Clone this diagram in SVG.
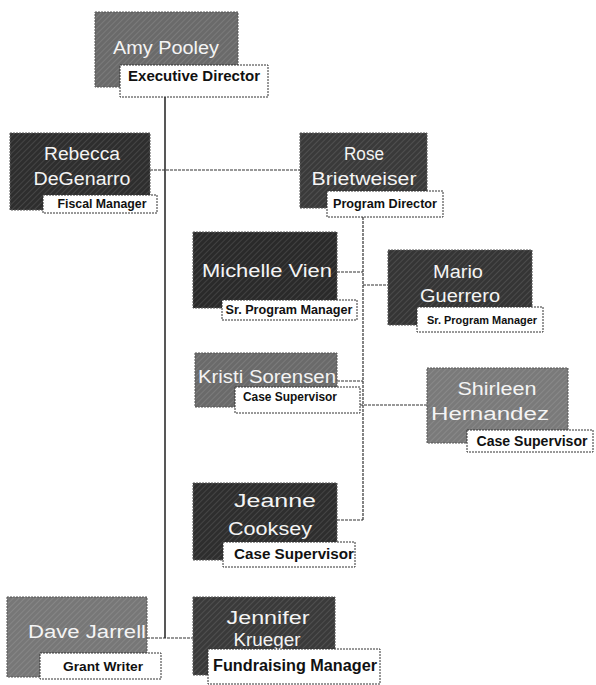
<svg xmlns="http://www.w3.org/2000/svg" width="596" height="685" viewBox="0 0 596 685">
<style>
.box{stroke:#555;stroke-width:1;stroke-dasharray:2 1}
.tex{fill:url(#hatch)}
.name{font-family:"Liberation Sans",Arial,sans-serif;font-size:18px;fill:#f4f4f4;text-anchor:middle}
.lbl{fill:#fff;stroke:#333;stroke-width:1;stroke-dasharray:2 1}
.lt{font-family:"Liberation Sans",Arial,sans-serif;font-weight:bold;fill:#111;text-anchor:middle}
.conn{fill:none;stroke:#333;stroke-width:1.2;stroke-dasharray:3 1}
.main{fill:none;stroke:#111;stroke-width:1.4}
</style>
<defs>
<pattern id="hatch" width="4" height="4" patternUnits="userSpaceOnUse" patternTransform="rotate(45)">
<line x1="0" y1="0" x2="0" y2="4" stroke="#fff" stroke-opacity="0.18" stroke-width="1.2"/>
</pattern>
</defs>
<rect width="596" height="685" fill="#fff"/>
<g id="connectors">
<path class="main" d="M165 97 V638"/>
<path class="conn" d="M150 170 H300"/>
<path class="conn" d="M147 638 H193"/>
<path class="conn" d="M363 217 V520"/>
<path class="conn" d="M337 272 H363"/>
<path class="conn" d="M363 285 H388"/>
<path class="conn" d="M337 381 H363"/>
<path class="conn" d="M360 405 H427"/>
<path class="conn" d="M337 520 H363"/>
</g>
<g id="amy">
<rect class="box" x="95" y="12" width="143" height="75" fill="#6a6a6a"/>
<rect class="tex" x="95" y="12" width="143" height="75"/>
<text class="name" x="166" y="54" textLength="106" lengthAdjust="spacingAndGlyphs">Amy Pooley</text>
<rect class="lbl" x="120" y="65" width="148" height="32"/>
<text class="lt" x="194" y="81" style="font-size:14px" textLength="132" lengthAdjust="spacingAndGlyphs">Executive Director</text>
</g>
<g id="rebecca">
<rect class="box" x="10" y="133" width="140" height="77" fill="#2e2e2e"/>
<rect class="tex" x="10" y="133" width="140" height="77"/>
<text class="name" x="82" y="160" textLength="76" lengthAdjust="spacingAndGlyphs">Rebecca</text>
<text class="name" x="82" y="185" textLength="97" lengthAdjust="spacingAndGlyphs">DeGenarro</text>
<rect class="lbl" x="43" y="195" width="114" height="18"/>
<text class="lt" x="102" y="208" style="font-size:12px" textLength="89" lengthAdjust="spacingAndGlyphs">Fiscal Manager</text>
</g>
<g id="rose">
<rect class="box" x="300" y="133" width="127" height="75" fill="#3a3a3a"/>
<rect class="tex" x="300" y="133" width="127" height="75"/>
<text class="name" x="364" y="160" textLength="40" lengthAdjust="spacingAndGlyphs">Rose</text>
<text class="name" x="364" y="185" textLength="105" lengthAdjust="spacingAndGlyphs">Brietweiser</text>
<rect class="lbl" x="327" y="191" width="116" height="26"/>
<text class="lt" x="385" y="208" style="font-size:12.5px" textLength="104" lengthAdjust="spacingAndGlyphs">Program Director</text>
</g>
<g id="michelle">
<rect class="box" x="193" y="232" width="144" height="76" fill="#2a2a2a"/>
<rect class="tex" x="193" y="232" width="144" height="76"/>
<text class="name" x="267" y="277" textLength="130" lengthAdjust="spacingAndGlyphs">Michelle Vien</text>
<rect class="lbl" x="222" y="300" width="135" height="20"/>
<text class="lt" x="289" y="314" style="font-size:12px" textLength="127" lengthAdjust="spacingAndGlyphs">Sr. Program Manager</text>
</g>
<g id="mario">
<rect class="box" x="388" y="250" width="144" height="75" fill="#353535"/>
<rect class="tex" x="388" y="250" width="144" height="75"/>
<text class="name" x="458" y="278" textLength="50" lengthAdjust="spacingAndGlyphs">Mario</text>
<text class="name" x="460" y="302" textLength="80" lengthAdjust="spacingAndGlyphs">Guerrero</text>
<rect class="lbl" x="417" y="307" width="126" height="25"/>
<text class="lt" x="482" y="324" style="font-size:11.5px" textLength="110" lengthAdjust="spacingAndGlyphs">Sr. Program Manager</text>
</g>
<g id="kristi">
<rect class="box" x="195" y="353" width="142" height="54" fill="#6a6a6a"/>
<rect class="tex" x="195" y="353" width="142" height="54"/>
<text class="name" x="267" y="383" textLength="138" lengthAdjust="spacingAndGlyphs">Kristi Sorensen</text>
<rect class="lbl" x="235" y="387" width="125" height="26"/>
<text class="lt" x="290" y="401" style="font-size:12.5px" textLength="94" lengthAdjust="spacingAndGlyphs">Case Supervisor</text>
</g>
<g id="shirleen">
<rect class="box" x="427" y="368" width="141" height="75" fill="#7a7a7a"/>
<rect class="tex" x="427" y="368" width="141" height="75"/>
<text class="name" x="497" y="395" textLength="79" lengthAdjust="spacingAndGlyphs">Shirleen</text>
<text class="name" x="490" y="420" textLength="118" lengthAdjust="spacingAndGlyphs">Hernandez</text>
<rect class="lbl" x="467" y="430" width="126" height="22"/>
<text class="lt" x="532" y="446" style="font-size:14px" textLength="111" lengthAdjust="spacingAndGlyphs">Case Supervisor</text>
</g>
<g id="jeanne">
<rect class="box" x="193" y="483" width="144" height="77" fill="#2e2e2e"/>
<rect class="tex" x="193" y="483" width="144" height="77"/>
<text class="name" x="275" y="507" textLength="82" lengthAdjust="spacingAndGlyphs">Jeanne</text>
<text class="name" x="270" y="535" textLength="84" lengthAdjust="spacingAndGlyphs">Cooksey</text>
<rect class="lbl" x="223" y="542" width="132" height="25"/>
<text class="lt" x="294" y="559" style="font-size:14px" textLength="120" lengthAdjust="spacingAndGlyphs">Case Supervisor</text>
</g>
<g id="dave">
<rect class="box" x="7" y="597" width="140" height="80" fill="#777"/>
<rect class="tex" x="7" y="597" width="140" height="80"/>
<text class="name" x="87" y="638" textLength="118" lengthAdjust="spacingAndGlyphs">Dave Jarrell</text>
<rect class="lbl" x="40" y="653" width="121" height="26"/>
<text class="lt" x="103" y="671" style="font-size:12.5px" textLength="80" lengthAdjust="spacingAndGlyphs">Grant Writer</text>
</g>
<g id="jennifer">
<rect class="box" x="193" y="597" width="142" height="78" fill="#3a3a3a"/>
<rect class="tex" x="193" y="597" width="142" height="78"/>
<text class="name" x="268" y="624" textLength="83" lengthAdjust="spacingAndGlyphs">Jennifer</text>
<text class="name" x="267" y="646" textLength="67" lengthAdjust="spacingAndGlyphs">Krueger</text>
<rect class="lbl" x="208" y="649" width="172" height="35"/>
<text class="lt" x="295" y="671" style="font-size:16px" textLength="164" lengthAdjust="spacingAndGlyphs">Fundraising Manager</text>
</g>
</svg>
